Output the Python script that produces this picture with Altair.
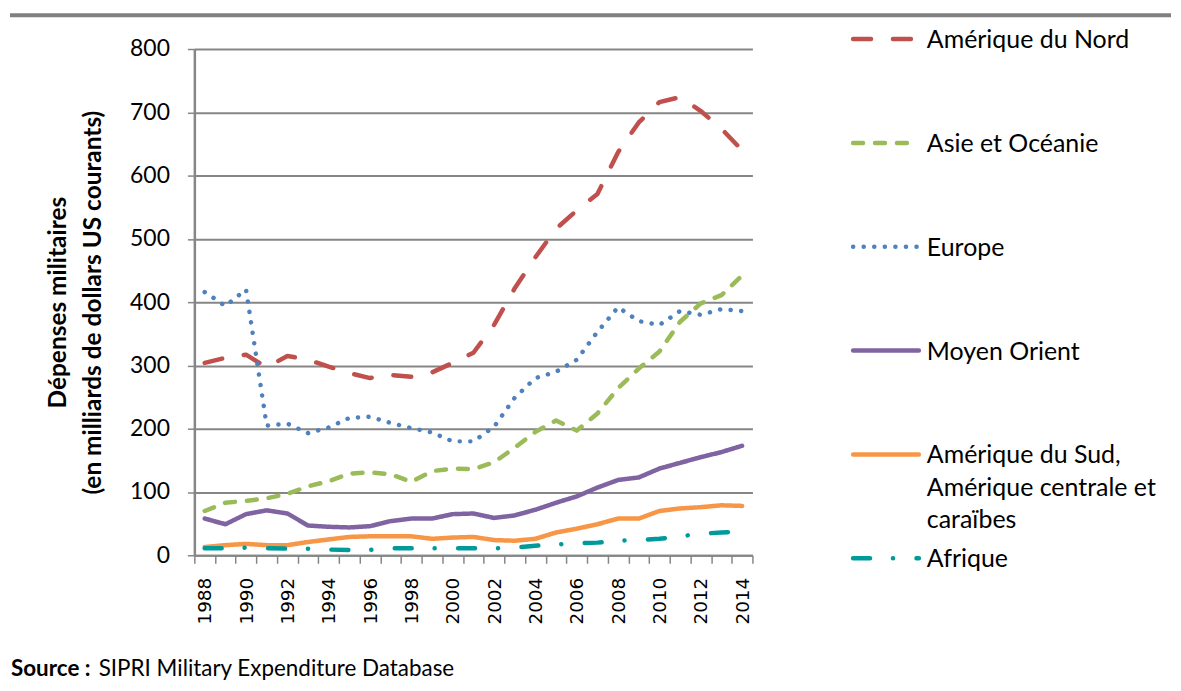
import altair as alt
import pandas as pd

years = [1988, 1989, 1990, 1991, 1992, 1993, 1994, 1995, 1996, 1997, 1998, 1999, 2000,
         2001, 2002, 2003, 2004, 2005, 2006, 2007, 2008, 2009, 2010, 2011, 2012, 2013, 2014]

series = ["Amérique du Nord", "Asie et Océanie", "Europe", "Moyen Orient",
          "Amérique du Sud, Amérique centrale et caraïbes", "Afrique"]
legend_labels = ["Amérique du Nord", "Asie et Océanie", "Europe", "Moyen Orient",
                 "Amérique du Sud,\nAmérique centrale et\ncaraïbes", "Afrique"]

amerique_nord = [304, 312, 317, 297, 315, 309, 298, 288, 280, 285, 282, 289, 304, 320,
                 364, 422, 471, 516, 545, 571, 637, 684, 716, 724, 702, 674, 640]
asie_oceanie = [70, 83, 86, 90, 97, 109, 117, 129, 131, 128, 116, 133, 137, 136,
                147, 170, 195, 213, 197, 224, 264, 295, 322, 369, 398, 411, 442]
europe = [416, 394, 420, 205, 208, 193, 202, 217, 219, 209, 201, 194, 180, 180,
          203, 249, 280, 290, 309, 353, 392, 370, 364, 386, 380, 389, 386]
moyen_orient = [58, 49, 65, 71, 66, 47, 45, 44, 46, 54, 58, 58, 65, 66,
                59, 63, 72, 83, 93, 107, 119, 123, 137, 146, 155, 163, 173]
amerique_sud = [13, 16, 18, 16, 16, 21, 25, 29, 30, 30, 30, 26, 28, 29,
                24, 23, 26, 36, 42, 49, 58, 58, 70, 74, 76, 79, 78]
afrique = [11, 11, 12, 11, 10.5, 10.5, 9, 8.5, 8.5, 11, 11, 11, 11, 11,
           11, 12, 15, 17, 19, 20, 23, 24, 26, 30, 34, 36, 37]

values = [amerique_nord, asie_oceanie, europe, moyen_orient, amerique_sud, afrique]

colors = ["#C0504D", "#9BBB59", "#4F81BD", "#8064A2", "#F79646", "#009A9A"]
dashes = [[18, 22], [10, 12], [0.1, 10.5], [1, 0], [1, 0], [17, 23, 0.1, 23.5]]

y_ticks = [0, 100, 200, 300, 400, 500, 600, 700, 800]
y_title = ["Dépenses militaires", "(en milliards de dollars US courants)"]
source_bold = "Source :"
source_text = "SIPRI Military Expenditure Database"

rows = []
for s, vals in zip(series, values):
    for yr, v in zip(years, vals):
        rows.append({"series": s, "year": yr, "value": v})
df = pd.DataFrame(rows)

leg_df = pd.DataFrame({"series": series, "label": legend_labels, "idx": list(range(len(series)))})

x_tick_vals = [yr - 0.5 for yr in years] + [years[-1] + 0.5]
x_label_vals = years[::2]

GRAY = "#868686"

color_enc = alt.Color("series:N", scale=alt.Scale(domain=series, range=colors), legend=None)
dash_enc = alt.StrokeDash("series:N", scale=alt.Scale(domain=series, range=dashes), legend=None)

lines = alt.Chart(df).mark_line(strokeWidth=4.5, strokeCap="round", strokeJoin="round").encode(
    x=alt.X("year:Q",
            scale=alt.Scale(domain=[years[0] - 0.5, years[-1] + 0.5], nice=False, zero=False),
            axis=alt.Axis(values=x_tick_vals + x_label_vals,
                          labelExpr="datum.value % 2 == 0 ? '' + datum.value : ''",
                          labelAngle=-90, labelFont="DejaVu Sans", labelFontSize=18.5,
                          labelColor="#000", labelPadding=14, labelOverlap=False,
                          labelFlush=False, labelBound=False,
                          tickSize=8, tickColor=GRAY, tickWidth=1.5,
                          tickOpacity={"condition": {"test": "datum.value % 1 == 0", "value": 0}, "value": 1},
                          domainColor=GRAY, domainWidth=2, grid=False, title=None)),
    y=alt.Y("value:Q",
            scale=alt.Scale(domain=[0, 800], nice=False),
            axis=alt.Axis(values=y_ticks, grid=True, gridColor=GRAY, gridWidth=2,
                          domainColor=GRAY, domainWidth=2.5, tickColor=GRAY, tickSize=7,
                          tickWidth=1.5, labelFont="Lato", labelFontSize=23, labelColor="#000",
                          labelPadding=18, title=y_title, titleX=-136, titleY=254,
                          titleAngle=-90, titleAlign="center", titleBaseline="middle",
                          titleLineHeight=35, titleFont="Lato", titleFontWeight="bold",
                          titleFontSize=24.5, titleColor="#000")),
    color=color_enc,
    strokeDash=dash_enc,
)

leg_y = alt.Y("idx:Q", scale=alt.Scale(domain=[0, 5], range=[-10, 511]), axis=None)

legend_rules = alt.Chart(leg_df).mark_rule(strokeWidth=4.5, strokeCap="round").encode(
    y=leg_y, x=alt.value(661), x2=alt.value(727), color=color_enc, strokeDash=dash_enc)

legend_text = alt.Chart(leg_df).mark_text(
    align="left", baseline="alphabetic", dy=9, font="Lato", fontSize=25,
    lineBreak="\n", lineHeight=32.5, color="#000").encode(
    y=leg_y, x=alt.value(735), text="label:N")

top_rule = alt.Chart(pd.DataFrame({"k": [0]})).mark_rule(color="#808080", strokeWidth=4).encode(
    x=alt.value(-185), x2=alt.value(980), y=alt.value(-34))

src1 = alt.Chart(pd.DataFrame({"t": [source_bold]})).mark_text(
    align="left", baseline="middle", font="Lato", fontWeight="bold", fontSize=22.5, color="#000").encode(
    text="t:N", x=alt.value(-184), y=alt.value(622))
src2 = alt.Chart(pd.DataFrame({"t": [source_text]})).mark_text(
    align="left", baseline="middle", font="Lato", fontSize=22.5, color="#000").encode(
    text="t:N", x=alt.value(-96), y=alt.value(622))

chart = alt.layer(lines, legend_rules, legend_text, top_rule, src1, src2).resolve_scale(
    y="independent"
).properties(
    width=560, height=508,
    padding={"left": 0, "top": 4, "right": 0, "bottom": 0},
).configure_view(stroke=None)

chart.save("out.html", embed_options={"renderer": "svg", "actions": False})
